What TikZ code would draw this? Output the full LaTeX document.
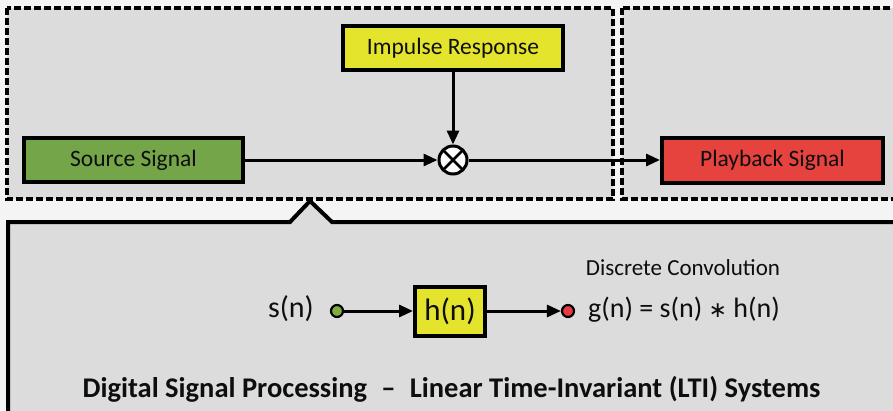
\documentclass[tikz,border=0pt]{standalone}
\usepackage{fontspec}
\setmainfont{Carlito}
\newfontfamily\symfont{DejaVu Sans}
\usetikzlibrary{arrows.meta}

\definecolor{paper}{HTML}{F4F4F4}
\definecolor{panel}{HTML}{DCDCDC}
\definecolor{ink}{HTML}{0E0E0E}
\definecolor{srcgreen}{HTML}{74A548}
\definecolor{impyellow}{HTML}{E4E42C}
\definecolor{playred}{HTML}{E6423E}
\definecolor{dotgreen}{HTML}{7DAE3F}
\definecolor{dotred}{HTML}{E83A45}

\tikzset{
  dashbox/.style={draw=black, line width=3.8pt, dash pattern=on 7pt off 3pt, fill=panel},
  blockbox/.style={draw=black, line width=4pt, rectangle, inner sep=0pt, text=ink,
    font=\fontsize{23.5}{27}\selectfont},
  conn/.style={draw=black, line width=3pt, -{Triangle[length=14pt,width=12pt]}},
  terminal/.style={circle, draw=black, line width=2.2pt, minimum size=12pt, inner sep=0pt},
  plain/.style={text=ink, inner sep=0pt}
}

\begin{document}
\begin{tikzpicture}[x=1pt, y=-1pt]
  \useasboundingbox (0,0) rectangle (893,410);
  \clip (0,0) rectangle (893,410);
  \fill[paper] (0,0) rectangle (893,410);

  % upper processing chain frames
  \draw[dashbox] (7,8) rectangle (613,199);
  \draw[dashbox] (622,8) rectangle (905,199);

  % lower callout panel with a pointer notch
  \draw[line width=4pt, fill=panel, line join=miter]
    (8,425) -- (8,222) -- (290,222) -- (310,201) -- (332,222) -- (905,222) -- (905,425);

  % upper chain
  \node[blockbox, fill=srcgreen, minimum width=219pt, minimum height=44pt] (src) at (133.5,160) {Source Signal};
  \node[blockbox, fill=impyellow, minimum width=220pt, minimum height=44pt] (imp) at (453,48) {Impulse Response};
  \node[circle, draw=black, line width=3pt, fill=white!92!panel, minimum size=28pt, inner sep=0pt,
        path picture={\draw[line width=2.8pt]
          (path picture bounding box.south west) -- (path picture bounding box.north east)
          (path picture bounding box.north west) -- (path picture bounding box.south east);}]
        (mult) at (453,160) {};
  \node[blockbox, fill=playred, minimum width=221pt, minimum height=45pt] (play) at (772.5,160) {Playback Signal};

  \draw[conn] (src.east) -- (mult.west);
  \draw[conn] (imp.south) -- (mult.north);
  \draw[conn] (mult.east) -- (play.west);

  % LTI system detail
  \node[terminal, fill=dotgreen] (sdot) at (337,311) {};
  \node[plain, anchor=east, font=\fontsize{30}{34}\selectfont] (slab) at (314,309) {s(n)};
  \node[blockbox, fill=impyellow, minimum width=70pt, minimum height=49pt,
        font=\fontsize{31}{35}\selectfont] (hbox) at (450,311) {h(n)};
  \node[terminal, fill=dotred] (gdot) at (568,311) {};
  \node[plain, anchor=west, font=\fontsize{28}{32}\selectfont] (geq) at (588,310)
    {g(n) = s(n) {\symfont\fontsize{22}{26}\selectfont ∗} h(n)};
  \node[plain, font=\fontsize{23}{27}\selectfont] (conv) at (683,268) {Discrete Convolution};

  \draw[conn] (sdot.east) -- (hbox.west);
  \draw[conn] (hbox.east) -- (gdot.west);

  \node[plain, font=\fontsize{28.5}{32}\selectfont\bfseries] (title) at (451.5,389)
    {Digital Signal Processing\enspace–\enspace Linear Time-Invariant (LTI) Systems};
\end{tikzpicture}
\end{document}
